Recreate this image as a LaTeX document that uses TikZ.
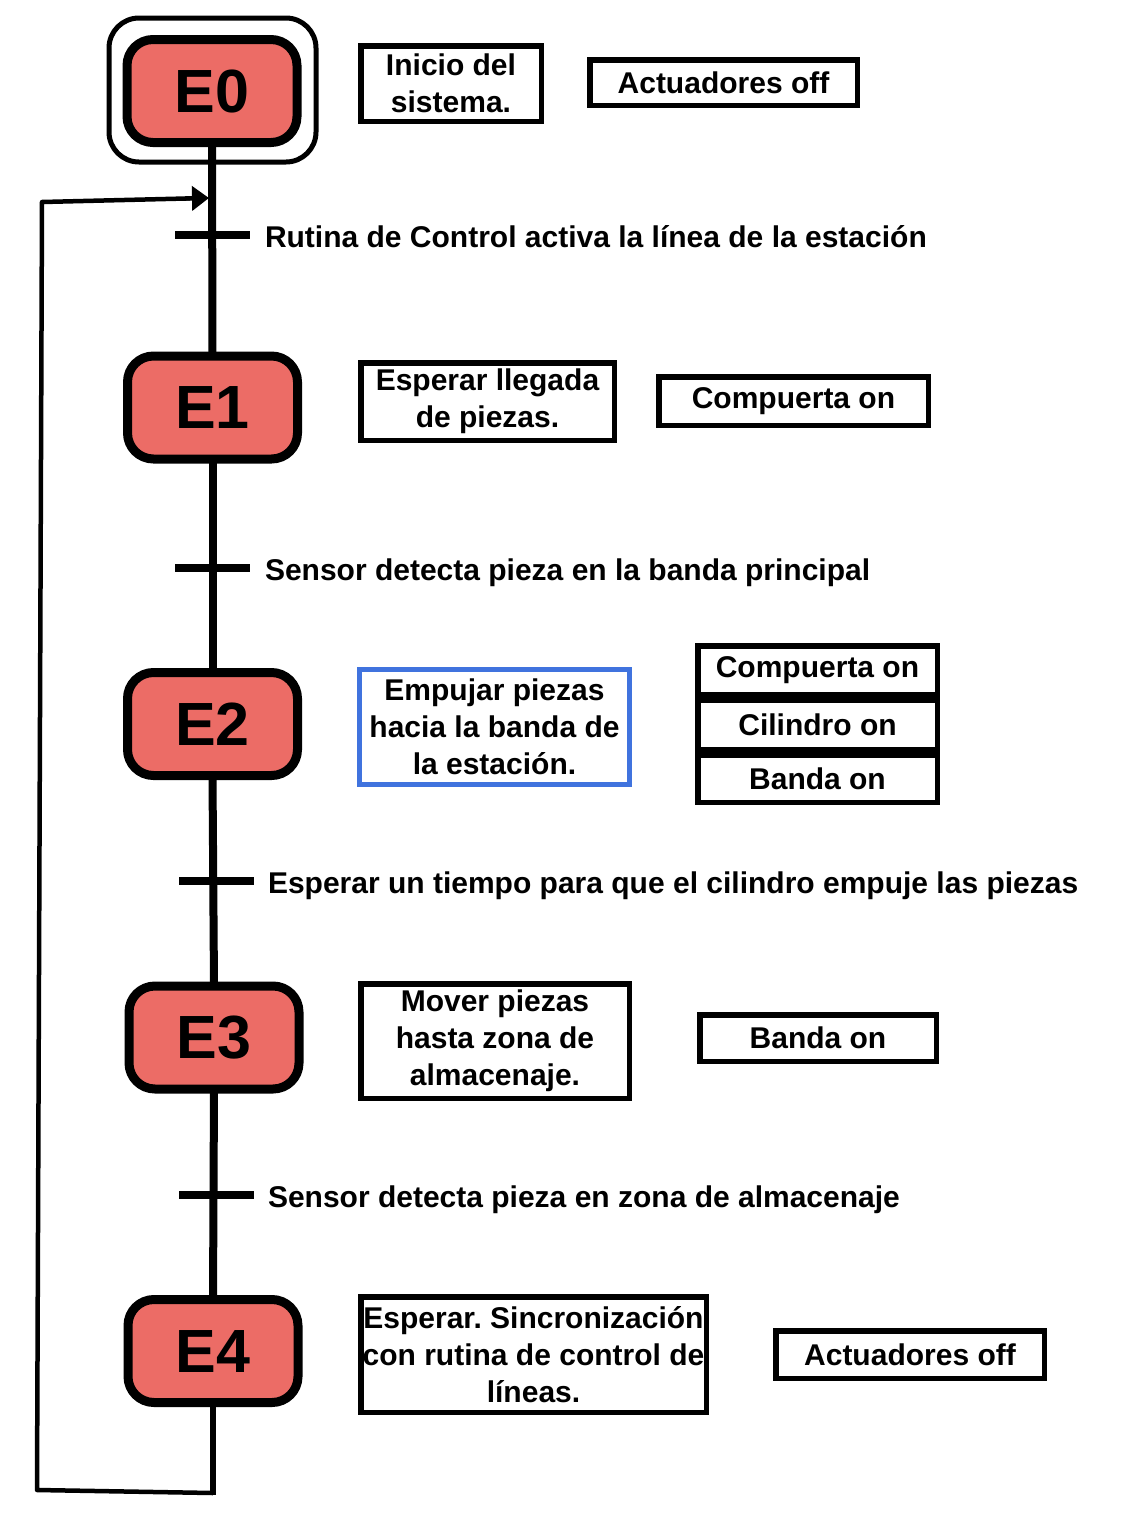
\documentclass[tikz,border=0pt]{standalone}
\usepackage{fontspec}
\setmainfont{Liberation Sans}
\usetikzlibrary{arrows.meta}
\definecolor{stred}{RGB}{236,108,102}
\definecolor{bblue}{RGB}{64,115,222}
\frenchspacing
\begin{document}
\begin{tikzpicture}[x=1pt,y=-1pt,
  every node/.style={font=\fontsize{30}{37}\selectfont\bfseries, inner sep=0pt, outer sep=0pt},
  state/.style={draw=black, line width=9pt, fill=stred, rounded corners=26pt,
    minimum width=170pt, minimum height=103pt, font=\fontsize{61}{61}\selectfont\bfseries},
  initframe/.style={draw=black, line width=5pt, rounded corners=30pt,
    minimum width=207pt, minimum height=144pt},
  abox/.style={draw=black, line width=5.5pt, align=center, fill=white},
  bluebox/.style={draw=bblue, line width=5pt, align=center, fill=white},
  tickbar/.style={fill=black, minimum width=75pt, minimum height=8pt},
  lbl/.style={anchor=base west},
  mainline/.style={line width=8pt},
  loopline/.style={line width=4.5pt, line join=round}
]
\useasboundingbox[fill=white] (0,0) rectangle (1134,1516);

% states
\node[initframe] (E0f) at (212.5,90) {};
\node[state] (E0) at (212,91) {E0};
\node[state] (E1) at (212.5,407.5) {E1};
\node[state] (E2) at (212.5,724) {E2};
\node[state] (E3) at (214,1037.5) {E3};
\node[state] (E4) at (213,1351) {E4};

% main line
\draw[mainline] (E0.south) -- (E1.north);
\draw[mainline] (E1.south) -- (E2.north);
\draw[mainline] (E2.south) -- (E3.north);
\draw[mainline] (E3.south) -- (E4.north);

% loop back
\coordinate (c1) at (213,1493);
\coordinate (c2) at (37,1490);
\coordinate (c3) at (42,202);
\coordinate (c4) at (209,198);
\draw[line width=6pt] (E4.south) -- ([yshift=-2pt]c1);
\draw[loopline] (c1) -- (c2) -- (c3) -- (190,198.4);
\draw[loopline, -{Triangle[length=17pt,width=24pt]}] (185,198.5) -- (c4);

% transitions
\node[tickbar] (t1) at (212.5,235) {};
\node[tickbar] (t2) at (212.5,568) {};
\node[tickbar] (t3) at (216,881) {};
\node[tickbar] (t4) at (216,1195) {};
\node[lbl] (l1) at (265,247) {Rutina de Control activa la línea de la estación};
\node[lbl] (l2) at (265,580) {Sensor detecta pieza en la banda principal};
\node[lbl] (l3) at (268,893) {Esperar un tiempo para que el cilindro empuje las piezas};
\node[lbl] (l4) at (268,1207) {Sensor detecta pieza en zona de almacenaje};

% E0 actions
\node[abox, minimum width=180.5pt, minimum height=75.5pt] (a0) at (451,83.5) {Inicio del\\sistema.};
\node[abox, minimum width=267.5pt, minimum height=45.5pt] (b0) at (723.5,82.5) {Actuadores off};

% E1 actions
\node[abox, minimum width=253.5pt, minimum height=77.5pt] (a1) at (487.5,401.5) {Esperar llegada\\de piezas.};
\node[abox, minimum width=269.5pt, minimum height=48.5pt] (b1) at (793.5,401) {Compuerta on};

% E2 actions
\node[bluebox, minimum width=270pt, minimum height=115pt] (a2) at (494.5,727) {Empujar piezas\\hacia la banda de\\la estación.};
\node[abox, minimum width=239.5pt, minimum height=49pt] (r1) at (817.5,670.25) {Compuerta on};
\node[abox, minimum width=239.5pt, minimum height=49pt] (r2) at (817.5,724.75) {Cilindro on};
\node[abox, minimum width=239.5pt, minimum height=47.5pt] (r3) at (817.5,778.5) {Banda on};

% E3 actions
\node[abox, minimum width=268.5pt, minimum height=114.5pt] (a3) at (495,1041) {Mover piezas\\hasta zona de\\almacenaje.};
\node[abox, minimum width=236.5pt, minimum height=46.5pt] (b3) at (818,1038) {Banda on};

% E4 actions
\node[abox, minimum width=345.5pt, minimum height=115.5pt] (a4) at (533.5,1354.5) {Esperar. Sincronización\\con rutina de control de\\líneas.};
\node[abox, minimum width=268.5pt, minimum height=47.5pt] (b4) at (910,1354.5) {Actuadores off};
\end{tikzpicture}
\end{document}
